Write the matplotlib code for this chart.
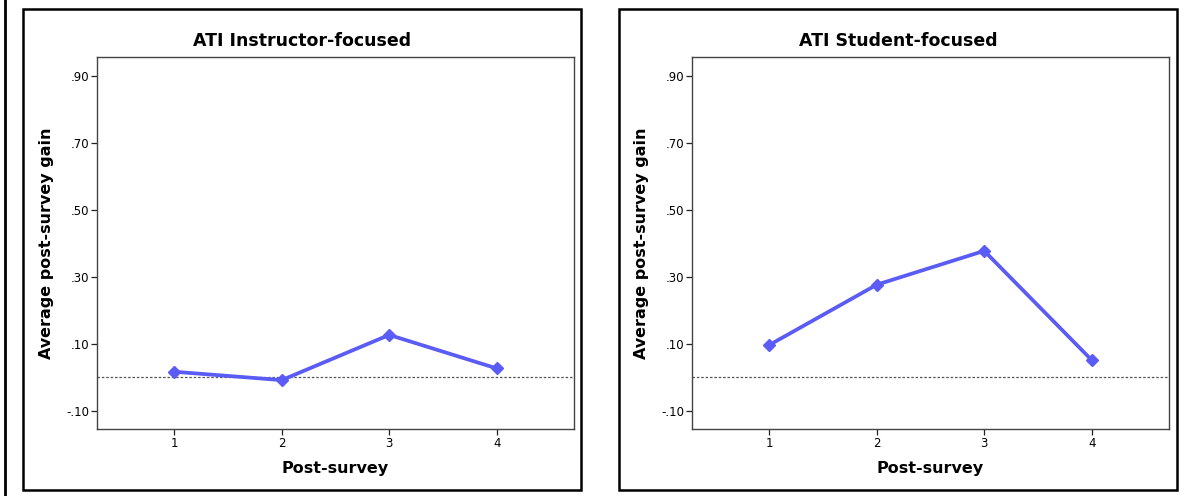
import matplotlib
matplotlib.use("Agg")
import matplotlib.pyplot as plt
from matplotlib.patches import Rectangle
from matplotlib.lines import Line2D

surveys = [1, 2, 3, 4]
instructor_gain = [0.017, -0.008, 0.127, 0.027]
student_gain = [0.097, 0.277, 0.378, 0.052]
titles = ["ATI Instructor-focused", "ATI Student-focused"]
yticks = [-0.10, 0.10, 0.30, 0.50, 0.70, 0.90]
ytick_labels = ["-.10", ".10", ".30", ".50", ".70", ".90"]

W, H = 1187, 496
fig = plt.figure(figsize=(W / 100, H / 100), dpi=100)
plt.rcParams['font.family'] = ['DejaVu Sans']

def fx(px):
    return px / W

def fy(py):
    return 1 - py / H

line_color = '#5b5bf5'
panels = [
    dict(ax=(97, 574), frame=(23, 581), data=instructor_gain, title=titles[0]),
    dict(ax=(692, 1169), frame=(619, 1177), data=student_gain, title=titles[1]),
]
ax_top, ax_bot = 57, 429
frame_top, frame_bot = 9, 490

for p in panels:
    x0, x1 = p['ax']
    ax = fig.add_axes([fx(x0), fy(ax_bot), fx(x1 - x0), (ax_bot - ax_top) / H])
    ax.plot(surveys, p['data'], color=line_color, lw=2.7, marker='D', ms=6.5,
            markeredgecolor=line_color, markerfacecolor=line_color, zorder=3)
    ax.axhline(0, color='#555555', lw=0.9, ls=(0, (2, 1.5)), zorder=2)
    ax.set_xlim(0.28, 4.72)
    ax.set_ylim(-0.154, 0.957)
    ax.set_xticks(surveys)
    ax.set_xticklabels([str(s) for s in surveys], fontsize=8.5)
    ax.set_yticks(yticks)
    ax.set_yticklabels(ytick_labels, fontsize=8.5)
    ax.tick_params(direction='out', length=4, width=0.9, color='#222222', pad=1.5)
    for s in ax.spines.values():
        s.set_color('#444444')
        s.set_linewidth(1.0)
    ax.set_xlabel('Post-survey', fontsize=11.5, fontweight='bold', labelpad=8)
    ax.set_ylabel('Average post-survey gain', fontsize=11.5, fontweight='bold', labelpad=9)
    f0, f1 = p['frame']
    fig.patches.append(Rectangle((fx(f0), fy(frame_bot)), fx(f1 - f0), (frame_bot - frame_top) / H,
                                 transform=fig.transFigure, fill=False, edgecolor='black', lw=1.8))
    fig.text(fx((f0 + f1) / 2), fy(41), p['title'], ha='center', va='center',
             fontsize=12.5, fontweight='bold')

fig.lines.append(Line2D([fx(5), fx(5)], [0, 1], transform=fig.transFigure, color='black', lw=2))

fig.savefig('out.png', dpi=100)
